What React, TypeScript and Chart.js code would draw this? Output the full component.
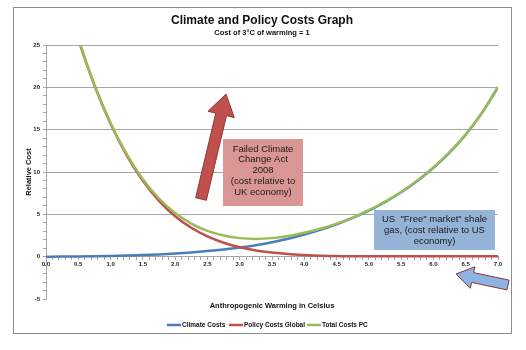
import React, { useEffect, useRef } from 'react';
import { Chart, registerables } from 'chart.js';
Chart.register(...registerables);

// ---- data ----
const temps = [0, 0.25, 0.5, 0.75, 1, 1.25, 1.5, 1.75, 2, 2.25, 2.5, 2.75, 3, 3.25, 3.5, 3.75, 4, 4.25, 4.5, 4.75, 5, 5.25, 5.5, 5.75, 6, 6.25, 6.5, 6.75, 7];
const climateCosts = [0, 0.01, 0.025, 0.05, 0.085, 0.13, 0.19, 0.27, 0.37, 0.5, 0.66, 0.85, 1.08, 1.36, 1.7, 2.12, 2.62, 3.18, 3.82, 4.58, 5.45, 6.45, 7.6, 8.95, 10.5, 12.3, 14.4, 16.95, 20.0];
const policyCostsGlobal = [39.4, 32.1, 25.7, 20.25, 15.7, 11.97, 8.96, 6.6, 4.78, 3.41, 2.39, 1.65, 1.11, 0.74, 0.49, 0.31, 0.2, 0.12, 0.08, 0.04, 0.04, 0.04, 0.04, 0.04, 0.04, 0.04, 0.04, 0.04, 0.04];
const totalCostsPC = [39.4, 32.11, 25.73, 20.3, 15.79, 12.1, 9.15, 6.87, 5.15, 3.91, 3.05, 2.5, 2.19, 2.1, 2.19, 2.43, 2.82, 3.3, 3.9, 4.62, 5.49, 6.49, 7.64, 8.99, 10.54, 12.34, 14.44, 16.99, 20.04];
const seriesNames = ['Climate Costs', 'Policy Costs Global', 'Total Costs PC'];
const seriesColors = ['#4a7ebb', '#c0504d', '#9bbb59'];

const titleText = 'Climate and Policy Costs Graph';
const subtitleText = 'Cost of 3\u00B0C of warming = 1';
const xTitle = 'Anthropogenic Warming in Celsius';
const yTitle = 'Relative Cost';
const ukNote = ['Failed Climate', 'Change Act', '2008', '(cost relative to', 'UK economy)'];
const usNote = ['US  "Free" market" shale', 'gas, (cost relative to US', 'economy)'];

const FONT = '"Liberation Sans", Arial, sans-serif';

function drawArrow(ctx: CanvasRenderingContext2D, x0: number, y0: number, x1: number, y1: number, sw: number, hw: number, hl: number, fill: string, stroke: string) {
  const dx = x1 - x0, dy = y1 - y0;
  const len = Math.hypot(dx, dy);
  const ux = dx / len, uy = dy / len;
  const nx = -uy, ny = ux;
  const bx = x0 + ux * (len - hl), by = y0 + uy * (len - hl);
  ctx.beginPath();
  ctx.moveTo(x0 + nx * sw / 2, y0 + ny * sw / 2);
  ctx.lineTo(bx + nx * sw / 2, by + ny * sw / 2);
  ctx.lineTo(bx + nx * hw / 2, by + ny * hw / 2);
  ctx.lineTo(x1, y1);
  ctx.lineTo(bx - nx * hw / 2, by - ny * hw / 2);
  ctx.lineTo(bx - nx * sw / 2, by - ny * sw / 2);
  ctx.lineTo(x0 - nx * sw / 2, y0 - ny * sw / 2);
  ctx.closePath();
  ctx.fillStyle = fill;
  ctx.fill();
  ctx.strokeStyle = stroke;
  ctx.lineWidth = 1;
  ctx.stroke();
}

const decor = {
  id: 'decor',
  beforeDraw(chart: any) {
    const ctx = chart.ctx as CanvasRenderingContext2D;
    ctx.save();
    ctx.fillStyle = '#ffffff';
    ctx.fillRect(0, 0, chart.width, chart.height);
    ctx.strokeStyle = '#8c8c8c';
    ctx.lineWidth = 1;
    ctx.strokeRect(13.5, 7.5, 498, 326);
    ctx.restore();
  },
  afterDraw(chart: any) {
    const ctx = chart.ctx as CanvasRenderingContext2D;
    const area = chart.chartArea;
    ctx.save();
    ctx.fillStyle = '#111';
    ctx.textAlign = 'center';
    ctx.textBaseline = 'middle';
    ctx.font = `bold 12px ${FONT}`;
    ctx.fillText(titleText, 262, 21);
    ctx.font = `bold 7.5px ${FONT}`;
    ctx.fillText(subtitleText, 262, 33);

    // axis titles
    ctx.font = `bold 7.5px ${FONT}`;
    ctx.fillText(xTitle, (area.left + area.right) / 2, 306);
    ctx.save();
    ctx.translate(29, 172);
    ctx.rotate(-Math.PI / 2);
    ctx.fillText(yTitle, 0, 0);
    ctx.restore();

    // legend
    const legendX = [167, 229, 307];
    ctx.font = `bold 6.5px ${FONT}`;
    ctx.textAlign = 'left';
    seriesNames.forEach((n, i) => {
      ctx.strokeStyle = seriesColors[i];
      ctx.lineWidth = 2.5;
      ctx.beginPath();
      ctx.moveTo(legendX[i], 325);
      ctx.lineTo(legendX[i] + 14, 325);
      ctx.stroke();
      ctx.fillStyle = '#111';
      ctx.fillText(n, legendX[i] + 15, 325.5);
    });

    // red arrow
    drawArrow(ctx, 201, 199, 226, 94, 11, 27, 21, '#c0504d', '#8c3836');

    // pink box
    ctx.fillStyle = '#d99694';
    ctx.fillRect(223, 139, 80, 67);
    ctx.fillStyle = '#1a1a1a';
    ctx.textAlign = 'center';
    ctx.font = `9.5px ${FONT}`;
    ukNote.forEach((l, i) => ctx.fillText(l, 263, 149 + i * 10.8));

    // blue box
    ctx.fillStyle = '#95b3d7';
    ctx.fillRect(374, 210, 121, 40);
    ctx.fillStyle = '#1a1a1a';
    usNote.forEach((l, i) => ctx.fillText(l, 434.5, 219 + i * 11));

    // blue arrow
    drawArrow(ctx, 508, 285, 456, 274, 10, 22, 17, '#8eb4e3', '#8c3836');
    ctx.restore();
  },
};

export default function App() {
  const ref = useRef<HTMLCanvasElement | null>(null);
  useEffect(() => {
    if (!ref.current) return;
    const mk = (vals: number[]) => temps.map((t, i) => ({ x: t, y: vals[i] }));
    const isHalf = (v: number) => Math.abs(v * 2 - Math.round(v * 2)) < 1e-6;
    const chart = new Chart(ref.current, {
      type: 'line',
      data: {
        datasets: [
          { label: seriesNames[0], data: mk(climateCosts), borderColor: seriesColors[0], order: 3 },
          { label: seriesNames[1], data: mk(policyCostsGlobal), borderColor: seriesColors[1], order: 2 },
          { label: seriesNames[2], data: mk(totalCostsPC), borderColor: seriesColors[2], order: 1 },
        ].map((d) => ({ ...d, borderWidth: 2.5, pointRadius: 0, fill: false, cubicInterpolationMode: 'monotone' as const })),
      },
      options: {
        responsive: false,
        animation: false,
        events: [],
        layout: { padding: { top: 45, bottom: 51, left: 26, right: 28 } },
        plugins: { legend: { display: false }, tooltip: { enabled: false }, title: { display: false } },
        scales: {
          x: {
            type: 'linear',
            min: 0,
            max: 7,
            position: { y: 0 } as any,
            ticks: {
              stepSize: 0.1,
              autoSkip: false,
              maxRotation: 0,
              maxTicksLimit: 200,
              padding: 1,
              color: '#222',
              font: { size: 6, weight: 'bold', family: FONT },
              callback: (v: any) => (isHalf(Number(v)) ? Number(v).toFixed(1) : ''),
            },
            grid: { drawOnChartArea: false, drawTicks: true, tickLength: 3, color: '#a6a6a6', tickColor: '#a6a6a6' },
            border: { color: '#a6a6a6', width: 1 },
          },
          y: {
            min: -5,
            max: 25,
            afterFit: (s: any) => { s.width = 20; },
            ticks: {
              stepSize: 1,
              autoSkip: false,
              maxTicksLimit: 100,
              padding: 3,
              color: '#222',
              font: { size: 6, weight: 'bold', family: FONT },
              callback: (v: any) => (Math.round(Number(v)) % 5 === 0 ? String(v) : ''),
            },
            grid: {
              color: (c: any) => {
                const v = c.tick ? Math.round(c.tick.value) : -1;
                return v > 0 && v % 5 === 0 ? '#a6a6a6' : 'rgba(0,0,0,0)';
              },
              tickColor: '#a6a6a6',
              tickLength: 3,
              drawTicks: true,
            },
            border: { color: '#a6a6a6', width: 1 },
          },
        },
      },
      plugins: [decor],
    } as any);
    return () => chart.destroy();
  }, []);
  return (
    <div style={{ position: 'fixed', left: 0, top: 0, width: 526, height: 350, background: '#fff' }}>
      <canvas ref={ref} width={526} height={350} style={{ display: 'block' }} />
    </div>
  );
}
